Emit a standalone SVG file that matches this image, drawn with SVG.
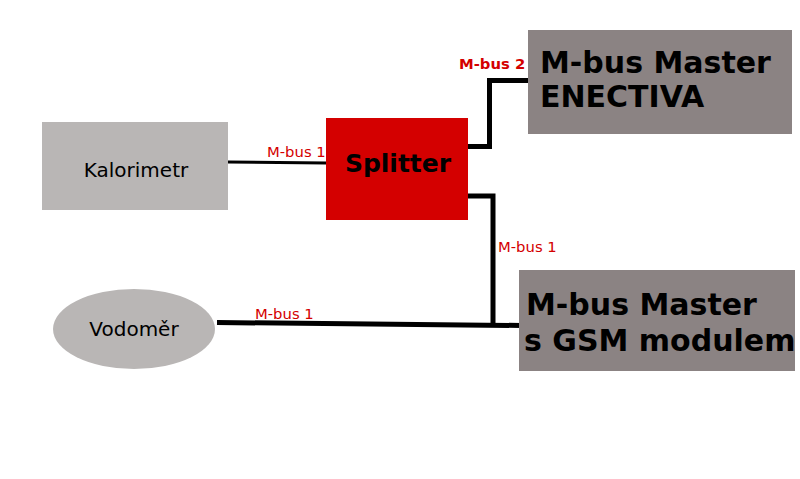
<svg xmlns="http://www.w3.org/2000/svg" width="800" height="479" viewBox="0 0 800 479">
<style>
.t{font-family:"DejaVu Sans",sans-serif;fill:#000}
.big{font-family:"DejaVu Sans",sans-serif;font-weight:bold;font-size:30px;fill:#000}
.lbl{font-family:"DejaVu Sans",sans-serif;font-size:14.8px;fill:#d40000}
.w{fill:none;stroke:#000;stroke-linejoin:miter}
</style>
<rect width="800" height="479" fill="#fff"/>
<g id="connectors">
<line class="w" x1="228" y1="162" x2="326" y2="163" stroke-width="3"/>
<polyline class="w" points="468,146.5 489.5,146.5 489.5,80.5 528,80.5" stroke-width="5"/>
<polyline class="w" points="468,196 493,196 493,324" stroke-width="5"/>
<line class="w" x1="217" y1="322.5" x2="521" y2="325.5" stroke-width="5"/>
<text class="lbl" x="459" y="69" font-size="14.3" font-weight="bold">M-bus 2</text>
<text class="lbl" x="267" y="157">M-bus 1</text>
<text class="lbl" x="498" y="252">M-bus 1</text>
<text class="lbl" x="255" y="319">M-bus 1</text>
</g>
<g id="kalorimetr">
<rect x="42" y="122" width="186" height="88" fill="#b9b6b5"/>
<text class="t" x="136" y="177" font-size="20" text-anchor="middle">Kalorimetr</text>
</g>
<g id="splitter">
<rect x="326" y="118" width="142" height="102" fill="#d40000"/>
<text class="t" x="398" y="172" font-size="25" font-weight="bold" text-anchor="middle">Splitter</text>
</g>
<g id="enectiva">
<rect x="528" y="30" width="264" height="104" fill="#8b8383"/>
<text class="big" x="540" y="73">M-bus Master</text>
<text class="big" x="540" y="107">ENECTIVA</text>
</g>
<g id="gsm">
<rect x="519" y="270" width="276" height="101" fill="#8b8383"/>
<text class="big" x="526" y="315">M-bus Master</text>
<text class="big" x="524" y="351">s GSM modulem</text>
</g>
<g id="vodomer">
<ellipse cx="134" cy="329" rx="81" ry="40" fill="#b9b6b5"/>
<text class="t" x="134" y="336" font-size="20" text-anchor="middle">Vodoměr</text>
</g>
</svg>
